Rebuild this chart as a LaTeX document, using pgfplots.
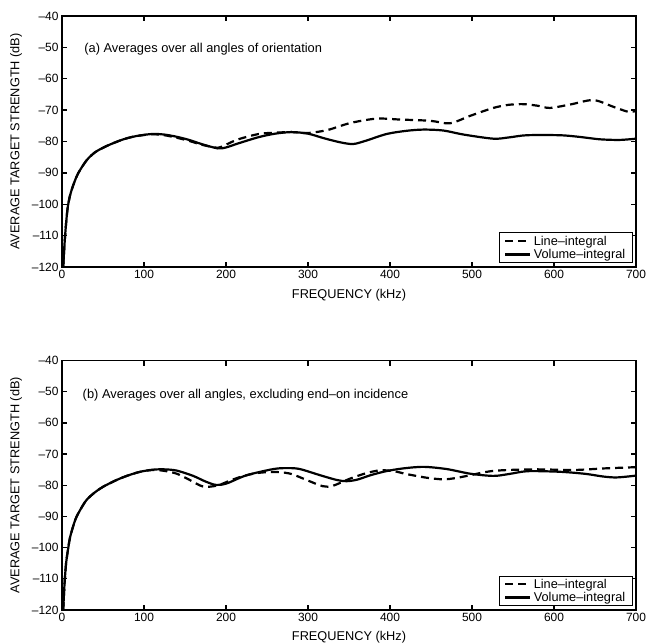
\documentclass[border=0pt]{standalone}
\usepackage{pgfplots}
\pgfplotsset{compat=1.18}
\usepackage{fontspec}
\setmainfont{Liberation Sans}
\pgfplotstableread{
x y
1.5 -120
3 -113
5 -106
7 -101
10 -97
15 -93
20 -90
30 -86
40 -83.5
50 -82
60 -80.8
75 -79.3
90 -78.3
110 -77.6
125 -77.8
140 -78.5
155 -79.5
170 -80.8
190 -82.2
200 -81.9
215 -80.6
240 -78.6
260 -77.5
280 -77
300 -77.5
320 -79
340 -80.3
355 -80.8
370 -79.8
396 -77.6
420 -76.6
441 -76.2
465 -76.5
490 -77.8
526 -79.1
545 -78.7
567 -78
607 -78
630 -78.5
656 -79.3
680 -79.5
700 -79.1
}\topsolid
\pgfplotstableread{
x y
1.5 -120
3 -113
5 -106
7 -101
10 -97
15 -93
20 -90
30 -86
40 -83.5
50 -82
60 -80.8
75 -79.3
90 -78.3
110 -77.7
125 -78
140 -78.8
155 -79.8
170 -81
190 -82
200 -81
215 -79.3
240 -77.6
260 -77.2
280 -77
300 -77.3
323 -76.4
340 -75
355 -73.9
384 -72.7
412 -73
449 -73.4
473 -74.2
498 -71.8
526 -69.3
545 -68.3
563 -68.1
580 -68.6
595 -69.3
620 -68.2
648 -66.8
672 -68.9
690 -70.5
700 -70.3
}\topdashed
\pgfplotstableread{
x y
1.5 -120
3 -112
5 -105
7.7 -100
10 -96.5
16 -91.2
22 -88
30 -84.7
40 -82.3
50 -80.5
65 -78.5
79 -77
95 -75.7
111 -75
125 -74.9
140 -75.3
160 -77
175 -78.8
188 -79.9
201 -79.4
225 -76.8
258 -74.8
275 -74.5
290 -74.8
315 -76.8
335 -78.3
347 -78.7
360 -78.2
376 -76.8
395 -75.5
416 -74.6
441 -74.1
469 -74.8
498 -76.3
526 -77
545 -76.4
567 -75.5
600 -75.6
620 -75.9
640 -76.4
660 -77.2
675 -77.5
690 -77.2
700 -76.9
}\botsolid
\pgfplotstableread{
x y
1.5 -120
3 -112
5 -105
7.7 -100
10 -96.5
16 -91.2
22 -88
30 -84.7
40 -82.3
50 -80.5
65 -78.5
79 -77
95 -75.7
111 -75.1
125 -75.4
140 -76.3
155 -78.2
172 -80.4
189 -80.1
205 -78.5
218 -77.3
235 -76.2
250 -75.8
265 -75.8
280 -76.4
300 -78.5
318 -80.3
330 -80.2
351 -77.9
370 -76.2
388 -75.2
405 -75.5
420 -76.4
445 -77.6
465 -78.1
480 -77.7
494 -77
526 -75.4
575 -74.9
624 -75.1
661 -74.6
700 -74.2
}\botdashed
\pgfplotsset{
  myaxis/.style={
    scale only axis,
    width=574bp,
    xmin=0, xmax=700, ymin=-120, ymax=-40,
    xtick={0,100,...,700},
    ytick={-120,-110,...,-40},
    yticklabels={--120,--110,--100,--90,--80,--70,--60,--50,--40},
    /pgf/number format/assume math mode=true,
    tick align=inside,
    major tick length=5bp,
    axis line style={line width=1.7bp},
    every tick/.style={black, line width=1.3bp},
    tick label style={font=\fontsize{12}{13}\selectfont},
    label style={font=\fontsize{12.8}{14}\selectfont},
    xlabel={FREQUENCY (kHz)},
    ylabel={AVERAGE TARGET STRENGTH (dB)},
    ylabel style={at={(axis description cs:-0.08,0.5)}, anchor=center},
    legend cell align=left,
    legend style={draw=black, line width=0.8bp, font=\fontsize{12.8}{13}\selectfont,
      at={(axis description cs:0.995,0.015)}, anchor=south east,
      inner xsep=5bp, inner ysep=1bp, row sep=-1.5bp,
      nodes={inner xsep=2.5bp}},
    legend image code/.code={\draw[##1] (0bp,0bp) -- (25bp,0bp);},
    solidline/.style={black, line width=2.2bp, smooth},
    dashline/.style={black, line width=2.2bp, smooth, dash pattern=on 8bp off 5bp},
  }
}
\begin{document}
\begin{tikzpicture}[x=1bp,y=1bp]
\useasboundingbox (-62bp,-377bp) rectangle (588bp,267bp);
\begin{axis}[myaxis, at={(0bp,0bp)}, anchor=south west, height=251bp,
  xlabel style={at={(axis description cs:0.5,-0.1116)}, anchor=center}]
\addplot[dashline] table {\topdashed};
\addlegendentry{Line--integral}
\addplot[solidline] table {\topsolid};
\addlegendentry{Volume--integral}
\node[anchor=west, font=\fontsize{12.9}{14}\selectfont] at (axis cs:23,-50.6) {(a) Averages over all angles of orientation};
\end{axis}
\begin{axis}[myaxis, at={(0bp,-343bp)}, anchor=south west, height=249.5bp,
  xlabel style={at={(axis description cs:0.5,-0.108)}, anchor=center}]
\addplot[dashline] table {\botdashed};
\addlegendentry{Line--integral}
\addplot[solidline] table {\botsolid};
\addlegendentry{Volume--integral}
\node[anchor=west, font=\fontsize{12.9}{14}\selectfont] at (axis cs:21,-51.1) {(b) Averages over all angles, excluding end--on incidence};
\end{axis}
\end{tikzpicture}
\end{document}
